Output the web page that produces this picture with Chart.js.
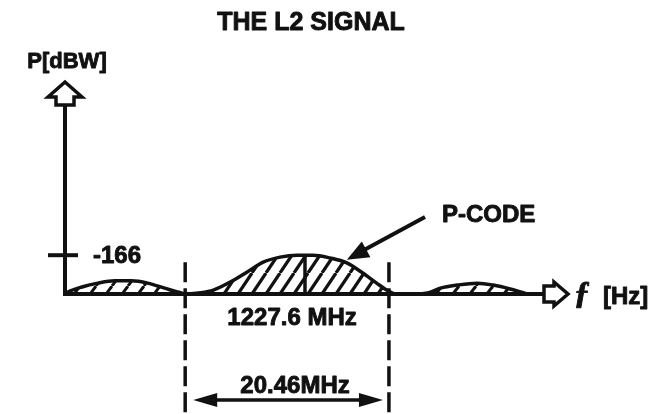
<!DOCTYPE html>
<html>
<head>
<meta charset="utf-8">
<script src="https://cdn.jsdelivr.net/npm/chart.js@4"></script>
<style>
  html, body { margin: 0; padding: 0; background: #fff; }
  #wrap { width: 655px; height: 414px; }
</style>
</head>
<body>
<div id="wrap"><canvas id="c" width="655" height="414"></canvas></div>
<script>
// Frequency offsets from the carrier, in MHz
const mainLobeFreq  = [-10.2, -8.7, -7.4, -5.7, -4.0, -2.4, -0.7, 1.0, 2.6, 4.3, 6.0, 7.6, 9.0, 10.0, 10.8];
// Relative power (1.0 = the -166 dBW level)
const mainLobePower = [0, 0.03, 0.10, 0.31, 0.57, 0.82, 0.95, 1.0, 1.0, 0.93, 0.80, 0.54, 0.28, 0.10, 0];

const leftLobeFreq  = [-22.3, -22.0, -20.6, -19.0, -17.3, -15.6, -14.0, -12.3, -11.0, -10.2];
const leftLobePower = [0, 0.05, 0.18, 0.28, 0.34, 0.34, 0.28, 0.15, 0.05, 0];

const rightLobeFreq  = [13.4, 14.4, 15.4, 17.1, 19.1, 20.7, 22.4, 24.1];
const rightLobePower = [0, 0.05, 0.15, 0.23, 0.28, 0.23, 0.13, 0];

const bandEdges = [-10.23, 10.23];      // ±10.23 MHz around the carrier
const carrierOffset = 1.8;              // carrier marker inside the main lobe
const carrierTop = 1.0;
const powerTick = 1.0;
const powerTickLabel = '-166';
const carrierLabel = '1227.6 MHz';
const bandwidthLabel = '20.46MHz';
const codeLabel = 'P-CODE';
const titleText = 'THE L2 SIGNAL';
const yAxisLabel = 'P[dBW]';
const xAxisUnit = '[Hz]';

const canvas = document.getElementById('c');
const ctx = canvas.getContext('2d');

function hatch(w, h, lw) {
  const c = document.createElement('canvas');
  c.width = w; c.height = h;
  const g = c.getContext('2d');
  g.fillStyle = '#fff';
  g.fillRect(0, 0, w, h);
  g.strokeStyle = '#111';
  g.lineWidth = lw;
  for (const k of [-1, 0, 1]) {
    g.beginPath();
    g.moveTo(k * w, h);
    g.lineTo(k * w + w, 0);
    g.stroke();
  }
  return ctx.createPattern(c, 'repeat');
}

const pts = (xs, ys) => xs.map((x, i) => ({ x, y: ys[i] }));

const lobeStyle = {
  borderColor: '#111',
  borderWidth: 3.5,
  pointRadius: 0,
  fill: 'origin',
  cubicInterpolationMode: 'monotone',
  borderJoinStyle: 'round',
  borderCapStyle: 'round',
  clip: false,
  order: 2
};

const FONT = '"Liberation Sans", Arial, Helvetica, sans-serif';

function arrowHead(g, x1, y1, x2, y2, len, half) {
  const a = Math.atan2(y2 - y1, x2 - x1);
  g.beginPath();
  g.moveTo(x2, y2);
  g.lineTo(x2 - len * Math.cos(a) + half * Math.sin(a), y2 - len * Math.sin(a) - half * Math.cos(a));
  g.lineTo(x2 - len * Math.cos(a) - half * Math.sin(a), y2 - len * Math.sin(a) + half * Math.cos(a));
  g.closePath();
  g.fill();
}

// bold text with a thin outline for a heavier stroke
function boldText(g, s, x, y) {
  g.fillText(s, x, y);
  g.strokeText(s, x, y);
}

const decor = {
  id: 'decor',
  afterDatasetsDraw(chart) {
    const g = chart.ctx;
    const xs = chart.scales.x, ys = chart.scales.y;
    const area = chart.chartArea;
    const x0 = xs.getPixelForValue(xs.min);
    const y0 = ys.getPixelForValue(0);
    g.save();
    g.strokeStyle = '#111';
    g.fillStyle = '#111';
    g.lineCap = 'butt';

    // vertical axis
    g.lineWidth = 4;
    g.beginPath();
    g.moveTo(x0, y0 + 2);
    g.lineTo(x0, area.top + 5);
    g.stroke();
    // hollow block arrow on top of the vertical axis
    g.lineWidth = 3.5;
    g.lineJoin = 'miter';
    g.beginPath();
    g.moveTo(x0, area.top - 18);
    g.lineTo(x0 - 17, area.top - 3);
    g.lineTo(x0 - 9, area.top - 3);
    g.lineTo(x0 - 9, area.top + 5);
    g.lineTo(x0 + 9, area.top + 5);
    g.lineTo(x0 + 9, area.top - 3);
    g.lineTo(x0 + 17, area.top - 3);
    g.closePath();
    g.fillStyle = '#fff';
    g.fill();
    g.stroke();
    g.fillStyle = '#111';

    // horizontal axis
    const xr = area.right + 4;
    g.lineWidth = 4;
    g.beginPath();
    g.moveTo(x0 - 2, y0);
    g.lineTo(xr, y0);
    g.stroke();
    g.lineWidth = 3.5;
    g.beginPath();
    g.moveTo(xr, y0 - 8);
    g.lineTo(xr + 10, y0 - 8);
    g.lineTo(xr + 10, y0 - 12);
    g.lineTo(xr + 24, y0);
    g.lineTo(xr + 10, y0 + 12);
    g.lineTo(xr + 10, y0 + 8);
    g.lineTo(xr, y0 + 8);
    g.closePath();
    g.fillStyle = '#fff';
    g.fill();
    g.stroke();
    g.fillStyle = '#111';

    // power tick
    const yt = ys.getPixelForValue(powerTick);
    g.lineWidth = 4;
    g.beginPath();
    g.moveTo(x0 - 17, yt);
    g.lineTo(x0 + 13, yt);
    g.stroke();

    // bandwidth arrow
    const xa = xs.getPixelForValue(bandEdges[0]) + 8;
    const xb = xs.getPixelForValue(bandEdges[1]) - 6;
    const yArr = ys.getPixelForValue(-2.73);
    g.lineWidth = 3.5;
    g.beginPath();
    g.moveTo(xa + 18, yArr);
    g.lineTo(xb - 18, yArr);
    g.stroke();
    arrowHead(g, xb, yArr, xa, yArr, 24, 7);
    arrowHead(g, xa, yArr, xb, yArr, 24, 7);

    // pointer to the P-code lobe
    const px1 = 425, py1 = 217;
    const px2 = xs.getPixelForValue(6.0), py2 = ys.getPixelForValue(0.88);
    g.lineWidth = 4;
    g.beginPath();
    g.moveTo(px1, py1);
    g.lineTo(px2 + 14, py2 - 8);
    g.stroke();
    arrowHead(g, px1, py1, px2, py2, 22, 9);

    // texts
    g.lineWidth = 0.9;
    g.lineJoin = 'round';
    g.textBaseline = 'alphabetic';
    g.font = 'bold 25px ' + FONT;
    g.textAlign = 'center';
    boldText(g, titleText, 311, 30);
    g.font = 'bold 22px ' + FONT;
    boldText(g, yAxisLabel, x0 + 2, 68);
    g.font = 'bold 24px ' + FONT;
    g.textAlign = 'left';
    boldText(g, powerTickLabel, x0 + 28, yt + 8);
    boldText(g, codeLabel, 442, 222);
    g.textAlign = 'center';
    boldText(g, carrierLabel, xs.getPixelForValue(0.5), y0 + 31);
    boldText(g, bandwidthLabel, (xa + xb) / 2 + 7, yArr - 7);
    g.textAlign = 'left';
    g.font = 'italic bold 32px "Liberation Serif", "DejaVu Serif", serif';
    boldText(g, '\u0192', xr + 30, y0 + 9);
    g.font = 'bold 24px ' + FONT;
    boldText(g, xAxisUnit, xr + 59, y0 + 10);
    g.restore();
  }
};

new Chart(ctx, {
  type: 'line',
  data: {
    datasets: [
      Object.assign({ data: pts(leftLobeFreq, leftLobePower), backgroundColor: hatch(16, 22, 3) }, lobeStyle),
      Object.assign({ data: pts(mainLobeFreq, mainLobePower), backgroundColor: hatch(14, 21, 3.2) }, lobeStyle),
      Object.assign({ data: pts(rightLobeFreq, rightLobePower), backgroundColor: hatch(17, 22, 3) }, lobeStyle),
      {
        data: [{ x: carrierOffset, y: 0 }, { x: carrierOffset, y: carrierTop }],
        borderColor: '#111', borderWidth: 3.5, pointRadius: 0, fill: false, clip: false, order: 1
      },
      {
        data: [{ x: bandEdges[0], y: 0.82 }, { x: bandEdges[0], y: -3.1 }],
        borderColor: '#111', borderWidth: 3.5, borderDash: [20, 6], pointRadius: 0, fill: false, clip: false, order: 1
      },
      {
        data: [{ x: bandEdges[1], y: 0.82 }, { x: bandEdges[1], y: -3.1 }],
        borderColor: '#111', borderWidth: 3.5, borderDash: [20, 6], pointRadius: 0, fill: false, clip: false, order: 1
      }
    ]
  },
  options: {
    responsive: false,
    animation: false,
    events: [],
    layout: { padding: { left: 65, right: 115, top: 100, bottom: 120 } },
    scales: {
      x: { type: 'linear', min: -22.3, max: 25.4, display: false },
      y: { min: 0, max: 5, display: false }
    },
    plugins: { legend: { display: false }, tooltip: { enabled: false }, title: { display: false } }
  },
  plugins: [decor]
});
</script>
</body>
</html>
